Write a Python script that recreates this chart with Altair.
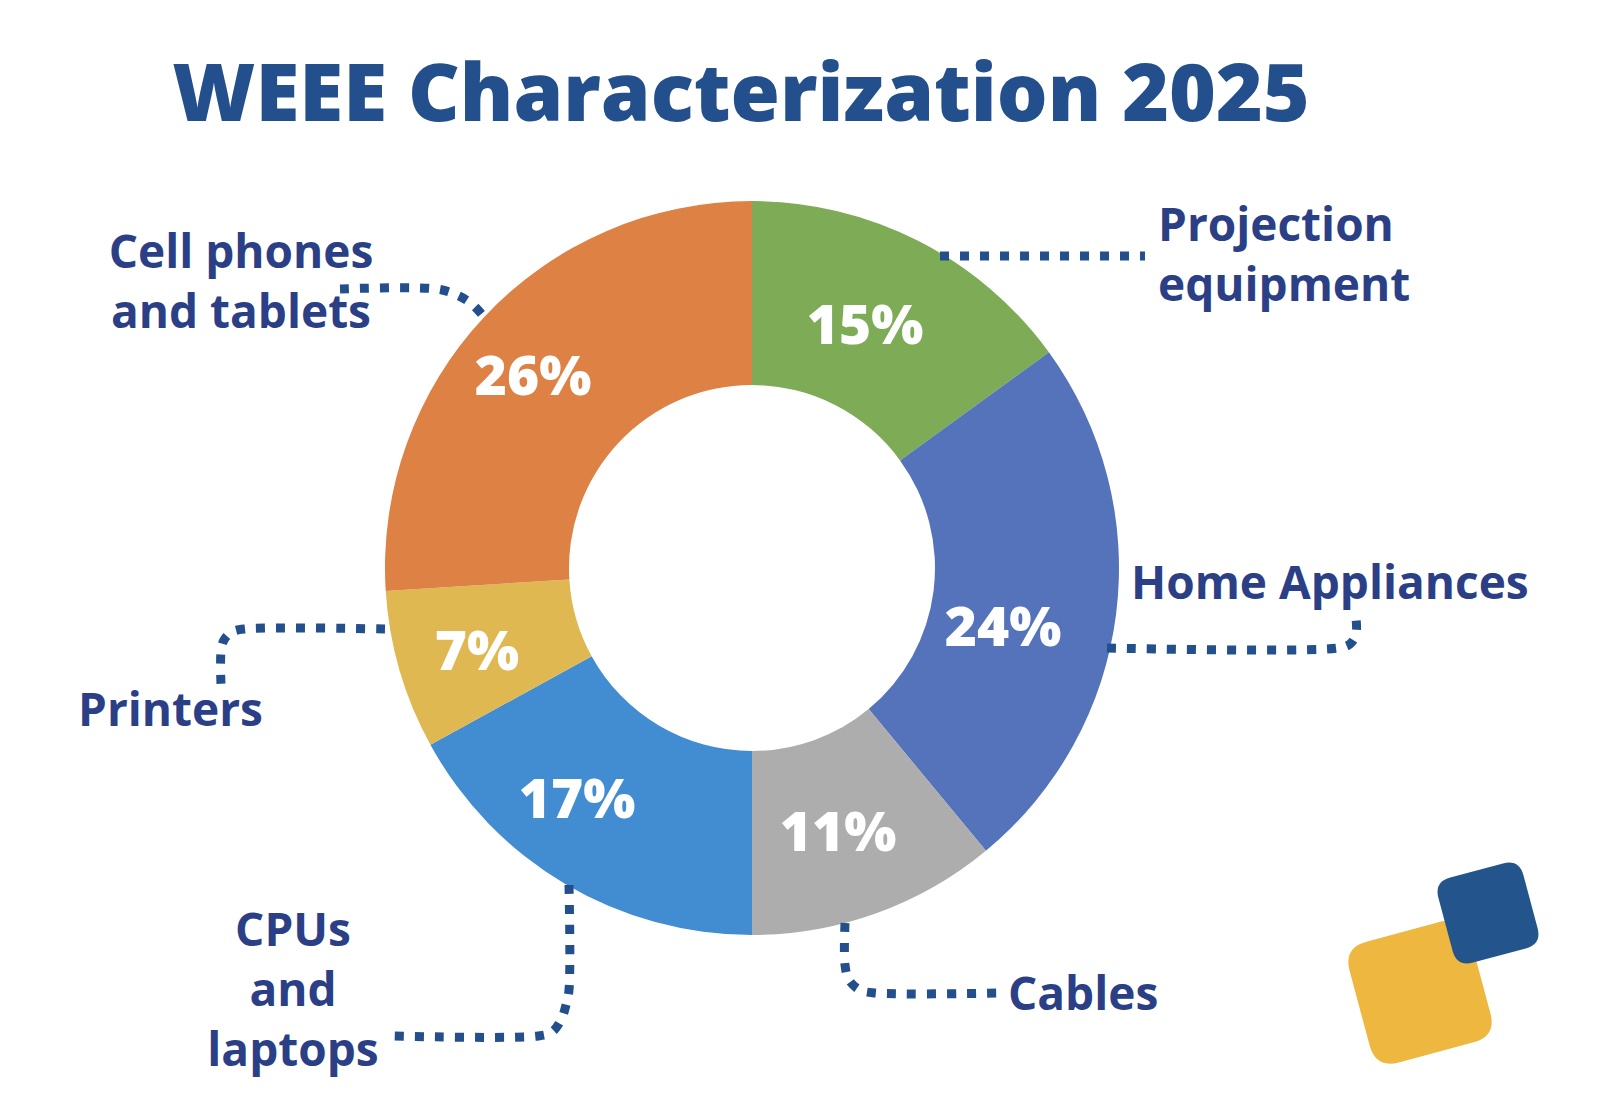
import altair as alt
import pandas as pd

# ---------------- data ----------------
title_text = "WEEE Characterization 2025"
categories = ["Projection equipment", "Home Appliances", "Cables",
              "CPUs and laptops", "Printers", "Cell phones and tablets"]
shares = [15, 24, 11, 17, 7, 26]
pct_labels = ["15%", "24%", "11%", "17%", "7%", "26%"]
label_lines = [["Projection", "equipment"], ["Home Appliances"], ["Cables"],
               ["CPUs", "and", "laptops"], ["Printers"], ["Cell phones", "and tablets"]]

# ---------------- styles / layout ----------------
slice_colors = ["#7eab56", "#5473ba", "#adadad", "#428cd1", "#e0b852", "#dd8144"]
TITLE_COLOR = "#234f8c"
LABEL_COLOR = "#2b3f86"
LEADER_COLOR = "#234f8c"
FONT = "Open Sans"

W, H = 1586, 1102
CX, CY = 752, 568          # donut centre (page px)
R_OUT, R_IN = 367, 183

pct_pos = [(865, 344), (1003, 646), (838, 851), (577, 818), (477, 670), (533, 395)]
label_layout = [(1158, 241, "left"), (1131, 599, "left"), (1008, 1010, "left"),
                (293, 946, "center"), (78, 726, "left"), (241, 268, "center")]
LINE_STEP = 60

leader_paths = [
    [(940, 256), (1145, 256)],
    [(1107, 648), (1338, 648), (1350, 644), (1356, 634), (1356, 618)],
    [(845, 923), (845, 965), (849, 980), (860, 990), (875, 993), (998, 993)],
    [(569, 885), (569, 990), (566, 1005), (561, 1020), (552, 1032), (538, 1036), (394, 1036)],
    [(385, 629), (245, 629), (232, 632), (224, 640), (221, 652), (221, 685)],
    [(340, 289), (437, 289), (457, 295), (472, 304), (484, 317)],
]

deco = [  # (x, y, side, color)
    (1420, 992, 125, "#edb740"),
    (1488, 913, 88, "#23558c"),
]
ROUNDED_SQUARE = ("M -0.62 -1 L 0.62 -1 Q 1 -1 1 -0.62 L 1 0.62 Q 1 1 0.62 1 "
                  "L -0.62 1 Q -1 1 -1 0.62 L -1 -0.62 Q -1 -1 -0.62 -1 Z")

# ---------------- tables ----------------
slices = pd.DataFrame({
    "category": categories,
    "share": shares,
    "idx": list(range(len(categories))),
})

pct_df = pd.DataFrame({
    "label": pct_labels,
    "px": [p[0] for p in pct_pos],
    "py": [p[1] for p in pct_pos],
})

lab_rows = []
for lines, (lx, ly, al) in zip(label_lines, label_layout):
    for k, t in enumerate(lines):
        lab_rows.append({"text": t, "px": lx, "py": ly + k * LINE_STEP, "align": al})
lab_df = pd.DataFrame(lab_rows)

lead_rows = []
for i, path in enumerate(leader_paths):
    for j, (x, y) in enumerate(path):
        lead_rows.append({"leader": i, "k": j, "px": x, "py": y})
lead_df = pd.DataFrame(lead_rows)

title_df = pd.DataFrame({"text": [title_text], "px": [741], "py": [121]})

xs = alt.Scale(domain=[8, 8 + W], nice=False, zero=False)
ys = alt.Scale(domain=[8, 8 + H], nice=False, zero=False, reverse=True)
X = alt.X("px:Q", scale=xs, axis=None)
Y = alt.Y("py:Q", scale=ys, axis=None)

# ---------------- layers ----------------
donut = alt.Chart(slices).mark_arc(
    innerRadius=R_IN, outerRadius=R_OUT, stroke=None
).encode(
    theta=alt.Theta("share:Q", stack=True),
    color=alt.Color("category:N", scale=alt.Scale(domain=categories, range=slice_colors), legend=None),
    order=alt.Order("idx:Q", sort="ascending"),
    x=alt.value(CX - 8),
    y=alt.value(CY - 8),
)

leaders = alt.Chart(lead_df).mark_line(
    color=LEADER_COLOR, strokeWidth=9, strokeDash=[9, 11], strokeCap="butt",
    interpolate="catmull-rom"
).encode(x=X, y=Y, detail="leader:N", order="k:Q")

pcts = alt.Chart(pct_df).mark_text(
    font=FONT, fontSize=55, fontWeight=800, color="white",
    align="center", baseline="alphabetic"
).encode(x=X, y=Y, text="label:N")

left_labels = alt.Chart(lab_df[lab_df["align"] == "left"]).mark_text(
    font=FONT, fontSize=46, fontWeight="bold", color=LABEL_COLOR,
    align="left", baseline="alphabetic"
).encode(x=X, y=Y, text="text:N")

center_labels = alt.Chart(lab_df[lab_df["align"] == "center"]).mark_text(
    font=FONT, fontSize=46, fontWeight="bold", color=LABEL_COLOR,
    align="center", baseline="alphabetic"
).encode(x=X, y=Y, text="text:N")

title = alt.Chart(title_df).mark_text(
    font=FONT, fontSize=80, fontWeight=800, color=TITLE_COLOR,
    align="center", baseline="alphabetic"
).encode(x=X, y=Y, text="text:N")

deco_layers = []
for (dx, dy, side, col) in deco:
    ddf = pd.DataFrame({"px": [dx], "py": [dy]})
    deco_layers.append(
        alt.Chart(ddf).mark_point(
            shape=ROUNDED_SQUARE, filled=True, fill=col, opacity=1,
            strokeWidth=0, size=side * side, angle=345
        ).encode(x=X, y=Y)
    )

chart = alt.layer(
    donut, leaders, pcts, left_labels, center_labels, title, *deco_layers
).properties(
    width=W, height=H,
    autosize=alt.AutoSizeParams(type="none"),
    padding=0,
    background="white",
).configure_view(stroke=None)

chart.save("out.html", embed_options={"renderer": "svg", "actions": False})
